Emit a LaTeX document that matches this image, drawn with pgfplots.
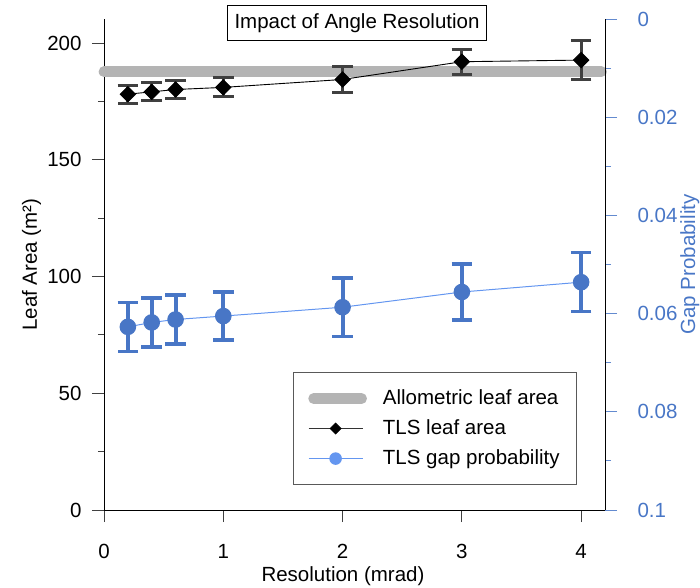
\documentclass[border=0pt]{standalone}
\usepackage{fontspec}
\setmainfont{Liberation Sans}
\usepackage{pgfplots}
\pgfplotsset{compat=1.18}
\definecolor{bluem}{RGB}{72,118,198}
\definecolor{bluel}{RGB}{100,150,240}
\definecolor{bandgray}{RGB}{180,180,180}
\definecolor{errgray}{RGB}{64,64,64}
\newcommand\f{\fontsize{20.5bp}{24bp}\selectfont}
\pgfplotsset{
 bandlegend/.style={legend image code/.code={\draw[##1] (5bp,0bp) -- (53bp,0bp);}},
 marklegend/.style={legend image code/.code={\draw[mark repeat=2, mark phase=2, ##1] plot coordinates {(0bp,0bp) (27bp,0bp) (54bp,0bp)};}},
}
\begin{document}
\begin{tikzpicture}
\pgfplotsset{
 base/.style={
  scale only axis, width=501bp, height=491bp,
  xmin=0, xmax=4.2, clip=false,
  /pgf/number format/assume math mode=true,
  tick label style={font=\f},
  label style={font=\f, inner sep=0pt},
 }
}
\begin{axis}[base,
  ymin=0, ymax=210.3,
  axis x line*=bottom, axis y line*=left,
  xtick align=outside, ytick align=outside,
  major tick length=12bp, minor tick length=6bp,
  axis line style={black, line width=0.9bp},
  xtick={0,1,2,3,4}, ytick={0,50,100,150,200}, minor ytick={25,75,125,175},
  tick style={black!75, line width=0.9bp},
  xticklabel style={yshift=-19bp},
  yticklabel style={xshift=-7bp},
  xlabel={Resolution (mrad)},
  xlabel style={at={([yshift=-71bp]rel axis cs:0.477,0)}, anchor=base},
  ylabel={Leaf Area (m²)},
  ylabel style={at={([xshift=-67bp]rel axis cs:0,0.5)}, anchor=base},
]
\addplot[bandgray, line width=10.7bp, line cap=round, forget plot] coordinates {(0,187.7) (4.17,187.7)};
\addplot[black, line width=0.9bp, mark=square*, mark size=5.4bp, mark options={rotate=45, black, fill=black}, forget plot,
  error bars/.cd, y dir=both, y explicit,
  error bar style={errgray, line width=3bp},
  error mark=|, error mark options={errgray, line width=3bp, mark size=10.3bp}]
 table[x=x, y=y, y error=e] {
x y e
0.2 178.1 3.8
0.4 179.1 3.9
0.6 180.1 3.8
1 181.0 4.1
2 184.4 5.5
3 192.0 5.3
4 192.7 8.3
};
\node[draw=black, line width=0.8bp, fill=white, font=\f, inner xsep=7bp, inner ysep=8bp] at ([yshift=-4bp]rel axis cs:0.505,1) {Impact of Angle Resolution};
\end{axis}
\begin{axis}[base,
  ymin=0, ymax=0.1, y dir=reverse,
  axis x line=none, axis y line*=right,
  ytick align=outside,
  major tick length=12bp, minor tick length=6bp,
  axis line style={black, line width=0.9bp},
  ytick={0,0.02,0.04,0.06,0.08,0.1}, yticklabels={0,0.02,0.04,0.06,0.08,0.1},
  minor ytick={0.01,0.03,0.05,0.07,0.09},
  tick style={bluem!85, line width=0.9bp},
  yticklabel style={bluem, xshift=17bp},
  ylabel={Gap Probability},
  ylabel style={bluem, at={([xshift=90bp]rel axis cs:1,0.5)}, anchor=base},
  legend cell align=left,
  legend style={at={([xshift=-28bp,yshift=25bp]rel axis cs:1,0)}, anchor=south east,
    draw=black!65, line width=0.8bp, fill=white, font=\f,
    inner xsep=15bp, inner ysep=14bp, row sep=6bp, column sep=14bp,
    nodes={inner sep=2bp, text height=16bp, text depth=4bp}},
]
\addplot[bluel, line width=1bp, mark=*, mark size=7.8bp, mark options={bluem, fill=bluem}, forget plot,
  error bars/.cd, y dir=both, y explicit,
  error bar style={bluem, line width=4bp},
  error mark=|, error mark options={bluem, line width=3.5bp, mark size=10.3bp}]
 table[x=x, y=y, y error=e] {
x y e
0.2 0.0627 0.0050
0.4 0.0618 0.0050
0.6 0.0612 0.0050
1 0.0605 0.0049
2 0.0587 0.0060
3 0.0556 0.0057
4 0.0536 0.0060
};
\addlegendimage{bandgray, line width=10.7bp, line cap=round, bandlegend}
\addlegendentry{Allometric leaf area}
\addlegendimage{black!80, line width=0.9bp, mark=square*, mark size=3.8bp, mark options={rotate=45, black, fill=black}, marklegend}
\addlegendentry{TLS leaf area}
\addlegendimage{bluel, line width=0.9bp, mark=*, mark size=5.8bp, mark options={bluel, fill=bluel}, marklegend}
\addlegendentry{TLS gap probability}
\end{axis}
\path ([shift={(-104bp,-78bp)}]current axis.south west) rectangle ([shift={(95bp,19bp)}]current axis.north east);
\end{tikzpicture}
\end{document}
